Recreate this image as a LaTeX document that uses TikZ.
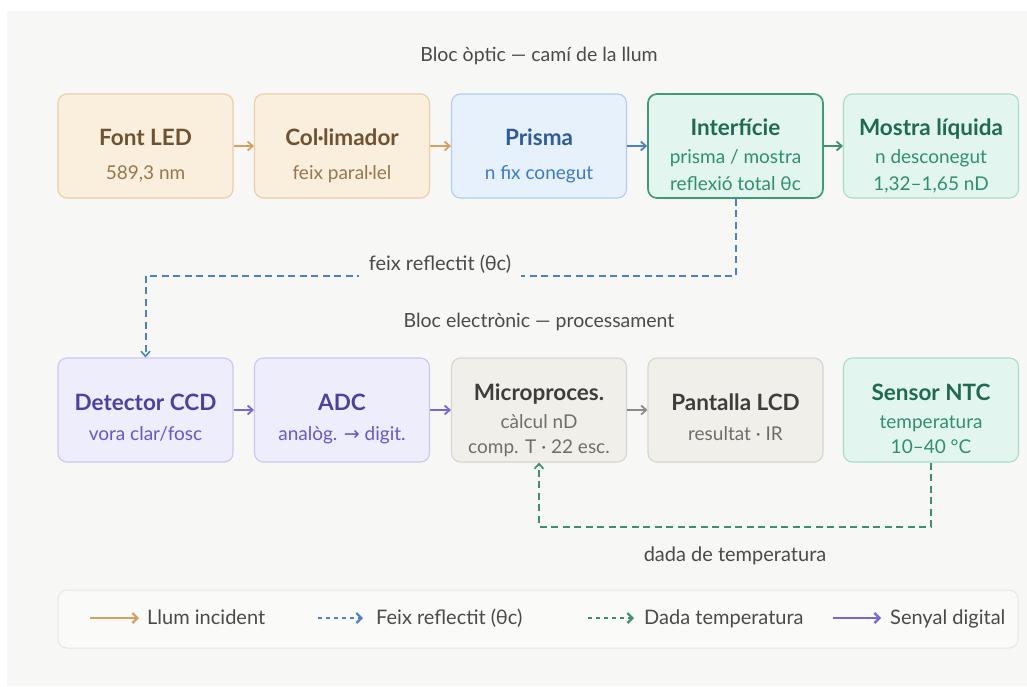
\documentclass[tikz,border=0pt]{standalone}
\usepackage{fontspec}
\setmainfont{Lato}
\newfontfamily\symf{DejaVu Sans}
\usetikzlibrary{arrows.meta}
\definecolor{bgpanel}{HTML}{F7F7F5}
\definecolor{orfill}{HTML}{FAEEDC}
\definecolor{ordraw}{HTML}{EBCFA5}
\definecolor{ortitle}{HTML}{6E5231}
\definecolor{orsub}{HTML}{96784F}
\definecolor{orarr}{HTML}{D6A060}
\definecolor{blfill}{HTML}{E7F1FC}
\definecolor{bldraw}{HTML}{AFCDEF}
\definecolor{bltitle}{HTML}{2D5C98}
\definecolor{blsub}{HTML}{3B7ACB}
\definecolor{blarr}{HTML}{4A83C4}
\definecolor{grfill}{HTML}{E2F5EE}
\definecolor{grdraw}{HTML}{A8DDC8}
\definecolor{grdark}{HTML}{3F9A7A}
\definecolor{grtitle}{HTML}{1F6B52}
\definecolor{grsub}{HTML}{2E9070}
\definecolor{grarr}{HTML}{3E8F70}
\definecolor{pufill}{HTML}{EEEDFC}
\definecolor{pudraw}{HTML}{CBC6F3}
\definecolor{putitle}{HTML}{4D40A3}
\definecolor{pusub}{HTML}{6657CF}
\definecolor{puarr}{HTML}{7667D6}
\definecolor{gyfill}{HTML}{F1EFEA}
\definecolor{gydraw}{HTML}{D8D5CE}
\definecolor{gytitle}{HTML}{3D3D3B}
\definecolor{gysub}{HTML}{6F6E6A}
\definecolor{gyarr}{HTML}{8C8B87}
\definecolor{txt}{HTML}{4A4A48}
\definecolor{legdraw}{HTML}{E6E6E2}
\begin{document}
\begin{tikzpicture}[x=1pt,y=-1pt,
  box/.style={rounded corners=9pt, minimum width=175pt, minimum height=104pt, inner sep=0pt, line width=1.1pt},
  orbox/.style={box, fill=orfill, draw=ordraw},
  blbox/.style={box, fill=blfill, draw=bldraw},
  grbox/.style={box, fill=grfill, draw=grdraw},
  grdarkbox/.style={box, fill=grfill, draw=grdark, line width=1.7pt},
  pubox/.style={box, fill=pufill, draw=pudraw},
  gybox/.style={box, fill=gyfill, draw=gydraw},
  ttl/.style={anchor=base, inner sep=0pt, font=\fontsize{22.5}{26}\selectfont\bfseries},
  sub/.style={anchor=base, inner sep=0pt, font=\fontsize{19}{22}\selectfont},
  sec/.style={anchor=base, inner sep=0pt, text=txt, font=\fontsize{19.5}{23}\selectfont},
  flow/.style={line width=1.9pt, -{Straight Barb[length=5pt,width=9pt,line width=1.8pt]}},
  dashflow/.style={line width=2pt, dash pattern=on 7pt off 4.5pt, -{Straight Barb[length=5pt,width=9pt,line width=1.6pt]}},
  legarrow/.style={line width=2.6pt, -{Straight Barb[length=5pt,width=10pt,line width=2.2pt]}},
  legdash/.style={line width=2.6pt, dash pattern=on 4pt off 4pt, -{Straight Barb[length=5pt,width=10pt,line width=2.2pt]}},
  legtext/.style={anchor=base west, inner sep=0pt, text=txt, font=\fontsize{20}{23}\selectfont},
  lbl/.style={anchor=base, text=txt, font=\fontsize{20}{23}\selectfont}
]
\useasboundingbox (0,0) rectangle (1027,686);
\fill[white] (0,0) rectangle (1027,686);
\fill[bgpanel] (7,11) rectangle (1027,686);

% section titles
\node[sec] (sec1) at (539,61) {Bloc òptic — camí de la llum};
\node[sec] (sec2) at (539,327) {Bloc electrònic — processament};

% top row
\node[orbox] (led) at (145.5,146) {};
\node[orbox] (col) at (342,146) {};
\node[blbox] (pri) at (539,146) {};
\node[grdarkbox] (intf) at (735.5,146) {};
\node[grbox] (mos) at (931,146) {};

\node[ttl, text=ortitle] (ledt) at (145.5,145) {Font LED};
\node[sub, text=orsub] (leds) at (145.5,179) {589,3 nm};
\node[ttl, text=ortitle] (colt) at (342,145) {Col·limador};
\node[sub, text=orsub] (cols) at (342,179) {feix paral·lel};
\node[ttl, text=bltitle] (prit) at (539,145) {Prisma};
\node[sub, text=blsub] (pris) at (539,179) {n fix conegut};
\node[ttl, text=grtitle] (intt) at (735.5,135) {Interfície};
\node[sub, text=grsub] (ints1) at (735.5,163) {prisma / mostra};
\node[sub, text=grsub] (ints2) at (735.5,190) {reflexió total θc};
\node[ttl, text=grtitle] (most) at (931,135) {Mostra líquida};
\node[sub, text=grsub] (mos1) at (931,163) {n desconegut};
\node[sub, text=grsub] (mos2) at (931,190) {1,32–1,65 nD};

% bottom row
\node[pubox] (det) at (145.5,410) {};
\node[pubox] (adc) at (342,410) {};
\node[gybox] (mic) at (539,410) {};
\node[gybox] (lcd) at (735.5,410) {};
\node[grbox] (ntc) at (931,410) {};

\node[ttl, text=putitle] (dett) at (145.5,410) {Detector CCD};
\node[sub, text=pusub] (dets) at (145.5,440) {vora clar/fosc};
\node[ttl, text=putitle] (adct) at (342,410) {ADC};
\node[sub, text=pusub] (adcs) at (342,440) {analòg. {\symf →} digit.};
\node[ttl, text=gytitle] (mict) at (539,400) {Microproces.};
\node[sub, text=gysub] (mic1) at (539,428) {càlcul nD};
\node[sub, text=gysub] (mic2) at (539,453) {comp. T · 22 esc.};
\node[ttl, text=gytitle] (lcdt) at (735.5,410) {Pantalla LCD};
\node[sub, text=gysub] (lcds) at (735.5,440) {resultat · IR};
\node[ttl, text=grtitle] (ntct) at (931,400) {Sensor NTC};
\node[sub, text=grsub] (ntc1) at (931,428) {temperatura};
\node[sub, text=grsub] (ntc2) at (931,453) {10–40 °C};

% flow arrows
\draw[flow, orarr] (led) -- (col);
\draw[flow, orarr] (col) -- (pri);
\draw[flow, blarr] (pri) -- (intf);
\draw[flow, grarr] (intf) -- (mos);
\draw[flow, puarr] (det) -- (adc);
\draw[flow, puarr] (adc) -- (mic);
\draw[flow, gyarr] (mic) -- (lcd);

% reflected beam
\draw[dashflow, blarr] (intf.south) -- ++(0,77) -| (det.north);
\node[lbl, fill=bgpanel, inner xsep=10pt, inner ysep=5pt] (feix) at (440,270) {feix reflectit (θc)};

% temperature data
\draw[dashflow, grarr] (ntc.south) -- ++(0,64) -| (mic.south);
\node[lbl, inner sep=0pt] (dada) at (735,561) {dada de temperatura};

% legend
\node[draw=legdraw, fill=bgpanel!60!white, rounded corners=9pt, line width=1pt, minimum width=960pt, minimum height=58pt, inner sep=0pt] (leg) at (538,619) {};
\coordinate (la1) at (90,618); \coordinate (lb1) at (139,618);
\coordinate (la2) at (318,618); \coordinate (lb2) at (363,618);
\coordinate (la3) at (588,618); \coordinate (lb3) at (634,618);
\coordinate (la4) at (833,618); \coordinate (lb4) at (881,618);
\draw[legarrow, orarr] (la1) -- (lb1);
\draw[legdash, blarr] (la2) -- (lb2);
\draw[legdash, grarr] (la3) -- (lb3);
\draw[legarrow, puarr] (la4) -- (lb4);
\node[legtext] (lt1) at (147,624) {Llum incident};
\node[legtext] (lt2) at (376,624) {Feix reflectit (θc)};
\node[legtext] (lt3) at (644,624) {Dada temperatura};
\node[legtext] (lt4) at (890,624) {Senyal digital};
\end{tikzpicture}
\end{document}
